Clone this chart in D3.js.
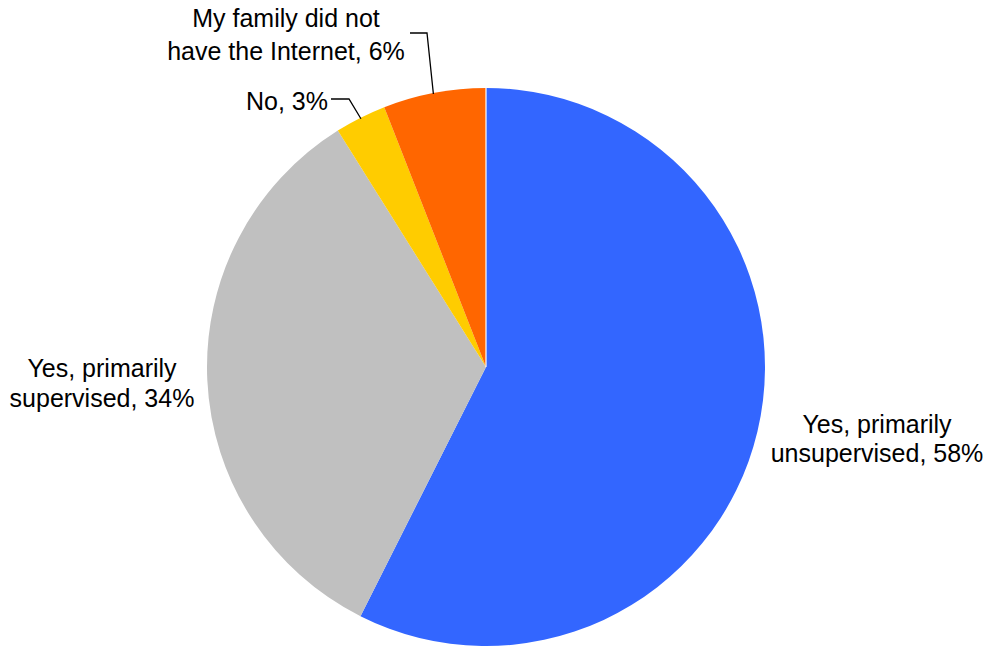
<!DOCTYPE html>
<html>
<head>
<meta charset="utf-8">
<script src="https://cdn.jsdelivr.net/npm/d3@7"></script>
<style>
  html, body { margin: 0; padding: 0; background: #fff; }
  svg text { font-family: "Liberation Sans", Arial, sans-serif; font-size: 25px; fill: #000; }
</style>
</head>
<body>
<svg id="chart" width="987" height="646"></svg>
<script>
// Slices in drawing order, clockwise from 12 o'clock
const categories = [
  "Yes, primarily unsupervised",
  "Yes, primarily supervised",
  "No",
  "My family did not have the Internet"
];
const values = [58, 34, 3, 6];
const colors = ["#3366FF", "#C0C0C0", "#FFCC00", "#FF6600"];
const labelLines = [
  ["Yes, primarily", "unsupervised, 58%"],
  ["Yes, primarily", "supervised, 34%"],
  ["No, 3%"],
  ["My family did not", "have the Internet, 6%"]
];

const svg = d3.select("#chart");
const cx = 486, cy = 367, r = 279;

const data = categories.map((c, i) => ({ name: c, value: values[i], color: colors[i], lines: labelLines[i] }));

const pie = d3.pie().value(d => d.value).sort(null);
const arc = d3.arc().innerRadius(0).outerRadius(r);
const arcs = pie(data);

const g = svg.append("g").attr("transform", `translate(${cx},${cy})`);
g.selectAll("path.slice")
  .data(arcs)
  .join("path")
  .attr("class", "slice")
  .attr("d", arc)
  .attr("fill", d => d.data.color);

// Thin separator at the start angle (12 o'clock)
g.append("line")
  .attr("x1", 0).attr("y1", 0)
  .attr("x2", 0).attr("y2", -r)
  .attr("stroke", "#fff").attr("stroke-width", 1.2);

// Label placement: [anchor, x, first baseline, line spacing]
const labelPos = [
  ["middle", 877, 433, 29],
  ["middle", 102, 377, 30],
  ["end", 328, 110, 30],
  ["middle", 286, 27, 33]
];

arcs.forEach((a, i) => {
  const [anchor, x, y0, dy] = labelPos[i];
  const t = svg.append("text").attr("text-anchor", anchor);
  a.data.lines.forEach((ln, j) => {
    t.append("tspan").attr("x", x).attr("y", y0 + j * dy).text(ln);
  });
});

// Leader lines for the two small slices, ending on the slice edge
function edgePoint(a, frac) {
  const ang = a.startAngle + (a.endAngle - a.startAngle) * frac;
  return [cx + (r - 1) * Math.sin(ang), cy - (r - 1) * Math.cos(ang)];
}
const leaders = [
  { idx: 2, pts: [[331, 99], [349, 99]], frac: 0.5 },
  { idx: 3, pts: [[410, 33], [427, 33]], frac: 0.49 }
];
leaders.forEach(l => {
  const end = edgePoint(arcs[l.idx], l.frac);
  svg.append("path")
    .attr("d", d3.line()([...l.pts, end]))
    .attr("fill", "none")
    .attr("stroke", "#000")
    .attr("stroke-width", 1.3);
});
</script>
</body>
</html>
